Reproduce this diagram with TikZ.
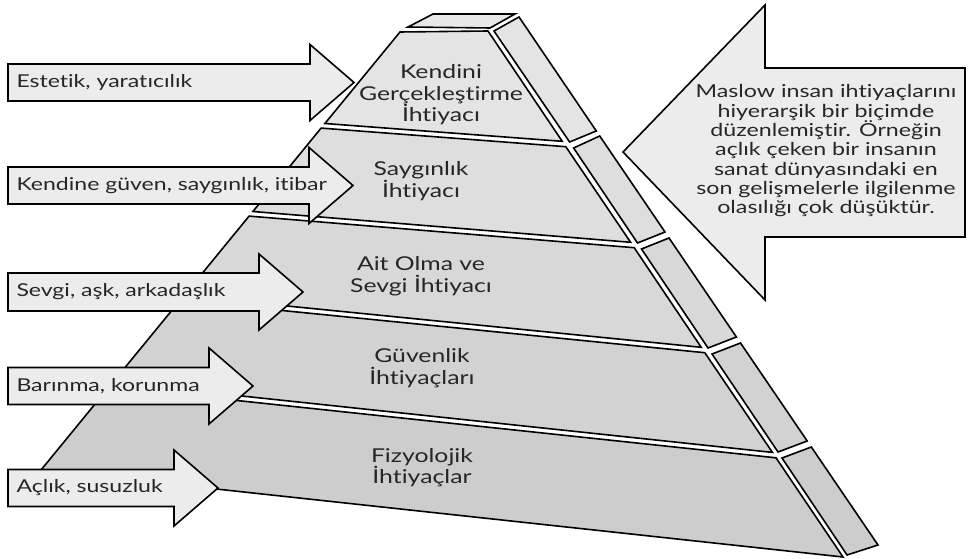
\documentclass[tikz,border=0pt]{standalone}
\usepackage{fontspec}
\setmainfont{Lato}[Ligatures=NoCommon, FakeStretch=1.3]
\definecolor{inkgray}{RGB}{38,38,38}
\definecolor{arrowgray}{RGB}{236,236,236}
\definecolor{capgray}{RGB}{232,232,232}
\definecolor{levelone}{RGB}{228,228,228}
\definecolor{leveltwo}{RGB}{222,222,222}
\definecolor{levelthree}{RGB}{216,216,216}
\definecolor{levelfour}{RGB}{210,210,210}
\definecolor{levelfive}{RGB}{205,205,205}
\tikzset{every picture/.style={line width=0.75pt}}
\begin{document}
\begin{tikzpicture}[x=0.75pt,y=0.75pt,yscale=-1,xscale=1,
  outline/.style={draw=black, line width=1.2pt},
  labeltext/.style={inner sep=0.75pt, text=inkgray, font=\fontsize{13.3}{15}\selectfont},
  leveltext/.style={labeltext, align=center, font=\fontsize{14.3}{16.1}\selectfont},
  notetext/.style={labeltext, align=center, font=\fontsize{13.4}{14.5}\selectfont}]
\useasboundingbox (0,0) rectangle (969,559);

%Shape: Cap of the pyramid
\draw [outline, fill=capgray] (408,27) -- (433,14) -- (515,14) -- (490,28) -- cycle ;
%Shape: Level 1 front
\draw [outline, fill=levelone] (400,32) -- (488,31) -- (562.2,141.3) -- (324.9,123.5) -- cycle ;
%Shape: Level 2 front
\draw [outline, fill=leveltwo] (321.1,128.1) -- (565.8,146.7) -- (630.6,242.3) -- (252.9,211.5) -- cycle ;
%Shape: Level 3 front
\draw [outline, fill=levelthree] (249.1,216.1) -- (634.2,247.7) -- (701.2,347.3) -- (183.9,295.7) -- cycle ;
%Shape: Level 4 front
\draw [outline, fill=levelfour] (180.1,300.3) -- (704.8,352.7) -- (772.4,452.4) -- (112.9,382.3) -- cycle ;
%Shape: Level 5 front
\draw [outline, fill=levelfive] (109.1,386.9) -- (776,457.8) -- (843,557) -- (41,470) -- cycle ;

%Shape: Level 1 side
\draw [outline, fill=levelone] (494,31) -- (519,17) -- (596.3,131) -- (569.6,142) -- cycle ;
%Shape: Level 2 side
\draw [outline, fill=leveltwo] (573.6,148) -- (599.7,136) -- (665,232) -- (637.5,243) -- cycle ;
%Shape: Level 3 side
\draw [outline, fill=levelthree] (641.5,249) -- (669,238) -- (736.4,337) -- (708,348) -- cycle ;
%Shape: Level 4 side
\draw [outline, fill=levelfour] (712,354) -- (740.5,343) -- (807.2,441) -- (778,452) -- cycle ;
%Shape: Level 5 side
\draw [outline, fill=levelfive] (782,458) -- (811.3,447) -- (878,545) -- (847,555) -- cycle ;

%Shape: Arrow Estetik
\draw [outline, fill=arrowgray] (8,64) -- (310,64) -- (310,44.5) -- (354,82.5) -- (310,120.5) -- (310,101) -- (8,101) -- cycle ;
%Shape: Arrow Kendine
\draw [outline, fill=arrowgray] (8,167) -- (309,167) -- (309,147.5) -- (353,185.5) -- (309,223.5) -- (309,204) -- (8,204) -- cycle ;
%Shape: Arrow Sevgi
\draw [outline, fill=arrowgray] (8,273) -- (259,273) -- (259,254) -- (303,292) -- (259,330) -- (259,311) -- (8,311) -- cycle ;
%Shape: Arrow Barinma
\draw [outline, fill=arrowgray] (8,367.5) -- (209,367.5) -- (209,348) -- (253,386) -- (209,424) -- (209,404.5) -- (8,404.5) -- cycle ;
%Shape: Arrow Aclik
\draw [outline, fill=arrowgray] (8,469.5) -- (174,469.5) -- (174,450) -- (218,488) -- (174,526) -- (174,506.5) -- (8,506.5) -- cycle ;

%Shape: Note arrow
\draw [outline, fill=arrowgray] (623,152) -- (765,5) -- (765,68) -- (965,68) -- (965,237) -- (765,237) -- (765,300) -- cycle ;

% Text Node
\node [leveltext] (kendini) at (441,95) {Kendini\\Gerçekleştirme\\İhtiyacı};
% Text Node
\node [leveltext] (saygi) at (421,181) {Saygınlık\\İhtiyacı};
% Text Node
\node [leveltext] (ait) at (421,276) {Ait Olma ve\\Sevgi İhtiyacı};
% Text Node
\node [leveltext] (guvenlik) at (422,368) {Güvenlik\\İhtiyaçları};
% Text Node
\node [leveltext] (fizyo) at (422,467.5) {Fizyolojik\\İhtiyaçlar};

% Text Node
\node [labeltext, anchor=west] (estetik) at (15,82.5) {Estetik, yaratıcılık};
% Text Node
\node [labeltext, anchor=west] (guven) at (15,185.5) {Kendine güven, saygınlık, itibar};
% Text Node
\node [labeltext, anchor=west] (sevgi) at (15,292) {Sevgi, aşk, arkadaşlık};
% Text Node
\node [labeltext, anchor=west] (barinma) at (15,386) {Barınma, korunma};
% Text Node
\node [labeltext, anchor=west] (aclik) at (15,488) {Açlık, susuzluk};

% Text Node
\node [notetext] (note) at (826,151) {Maslow insan ihtiyaçlarını\\hiyerarşik bir biçimde\\düzenlemiştir. Örneğin\\açlık çeken bir insanın\\sanat dünyasındaki en\\son gelişmelerle ilgilenme\\olasılığı çok düşüktür.};

\end{tikzpicture}
\end{document}
